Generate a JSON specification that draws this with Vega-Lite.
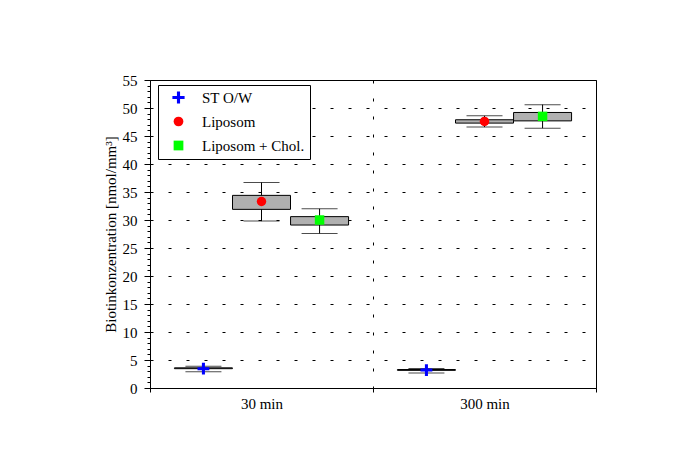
{
  "$schema": "https://vega.github.io/schema/vega-lite/v6.json",
  "width": 446,
  "height": 308,
  "autosize": {"type": "none"},
  "padding": {"left": 150, "top": 80, "right": 83, "bottom": 68},
  "background": "white",
  "data": {
    "values": [
      {"time": "30 min", "series": "ST O/W", "lo": 2.9, "q1": 3.45, "mid": 3.45, "q3": 3.6, "hi": 3.9},
      {"time": "30 min", "series": "Liposom", "lo": 29.8, "q1": 31.9, "mid": 33.3, "q3": 34.4, "hi": 36.7},
      {"time": "30 min", "series": "Liposom + Chol.", "lo": 27.6, "q1": 29.1, "mid": 30.0, "q3": 30.6, "hi": 32.0},
      {"time": "300 min", "series": "ST O/W", "lo": 2.7, "q1": 3.15, "mid": 3.2, "q3": 3.3, "hi": 3.5},
      {"time": "300 min", "series": "Liposom", "lo": 46.6, "q1": 47.3, "mid": 47.6, "q3": 47.9, "hi": 48.6},
      {"time": "300 min", "series": "Liposom + Chol.", "lo": 46.4, "q1": 47.7, "mid": 48.5, "q3": 49.2, "hi": 50.6}
    ]
  },
  "encoding": {
    "x": {
      "field": "time", "type": "nominal", "sort": ["30 min", "300 min"],
      "scale": {"paddingInner": 0, "paddingOuter": 0},
      "axis": {
        "title": null, "labelAngle": 0, "bandPosition": 0, "tickBand": "extent",
        "tickSize": 4, "tickColor": "black", "domainColor": "black",
        "labelFont": "Liberation Serif", "labelFontSize": 15, "labelColor": "black", "labelPadding": 4,
        "grid": true, "gridDash": [3, 15], "gridColor": "black", "gridWidth": 1
      }
    },
    "xOffset": {
      "field": "series", "type": "nominal", "sort": ["ST O/W", "Liposom", "Liposom + Chol."],
      "scale": {"paddingInner": 0, "paddingOuter": 0.42}
    }
  },
  "layer": [
    {
      "mark": {"type": "rule", "color": "black", "strokeWidth": 1},
      "encoding": {
        "y": {
          "field": "lo", "type": "quantitative",
          "scale": {"domain": [0, 55], "nice": false, "zero": false},
          "title": "Biotinkonzentration [nmol/mm³]",
          "axis": {
            "values": [0,1,2,3,4,5,6,7,8,9,10,11,12,13,14,15,16,17,18,19,20,21,22,23,24,25,26,27,28,29,30,31,32,33,34,35,36,37,38,39,40,41,42,43,44,45,46,47,48,49,50,51,52,53,54,55],
            "tickCount": 100,
            "format": "d",
            "labelExpr": "datum.value % 5 === 0 ? datum.label : ''",
            "labelOverlap": false,
            "tickSize": {"condition": {"test": "datum.value % 5 === 0", "value": 6}, "value": 3},
            "tickColor": "black", "domainColor": "black",
            "labelFont": "Liberation Serif", "labelFontSize": 15, "labelColor": "black", "labelPadding": 7,
            "titleFont": "Liberation Serif", "titleFontSize": 15, "titleFontWeight": "normal", "titleColor": "black",
            "titlePadding": 4,
            "grid": true, "gridDash": [3, 15], "gridColor": "black", "gridWidth": 1,
            "gridOpacity": {"condition": {"test": "datum.value % 5 === 0 && datum.value > 0 && datum.value < 55", "value": 1}, "value": 0}
          }
        },
        "y2": {"field": "hi"}
      }
    },
    {
      "mark": {"type": "tick", "color": "black", "size": 36, "thickness": 1},
      "encoding": {"y": {"field": "lo", "type": "quantitative"}}
    },
    {
      "mark": {"type": "tick", "color": "black", "size": 36, "thickness": 1},
      "encoding": {"y": {"field": "hi", "type": "quantitative"}}
    },
    {
      "mark": {"type": "bar", "fill": "#b0b0b0", "stroke": "black", "strokeWidth": 1, "width": 58},
      "encoding": {
        "y": {"field": "q1", "type": "quantitative"},
        "y2": {"field": "q3"}
      }
    },
    {
      "mark": {"type": "point", "filled": true, "opacity": 1, "size": 90},
      "encoding": {
        "y": {"field": "mid", "type": "quantitative"},
        "color": {
          "field": "series", "type": "nominal",
          "scale": {"domain": ["ST O/W", "Liposom", "Liposom + Chol."], "range": ["#0000ff", "#ff0000", "#00ff00"]},
          "legend": {"title": null}
        },
        "shape": {
          "field": "series", "type": "nominal",
          "scale": {"domain": ["ST O/W", "Liposom", "Liposom + Chol."], "range": ["M-1.25,-0.32H1.25V0.32H-1.25Z M-0.32,-1.25H0.32V1.25H-0.32Z", "circle", "square"]},
          "legend": {"title": null}
        }
      }
    }
  ],
  "config": {
    "view": {"stroke": "black", "strokeWidth": 1},
    "legend": {
      "orient": "none", "legendX": 8, "legendY": 5,
      "strokeColor": "black", "strokeWidth": 1, "fillColor": "white",
      "padding": 5, "symbolOffset": 8, "labelOffset": 16, "rowPadding": 8,
      "labelFont": "Liberation Serif", "labelFontSize": 15, "labelColor": "black",
      "symbolSize": 95, "symbolStrokeWidth": 0, "symbolOpacity": 1
    }
  }
}
